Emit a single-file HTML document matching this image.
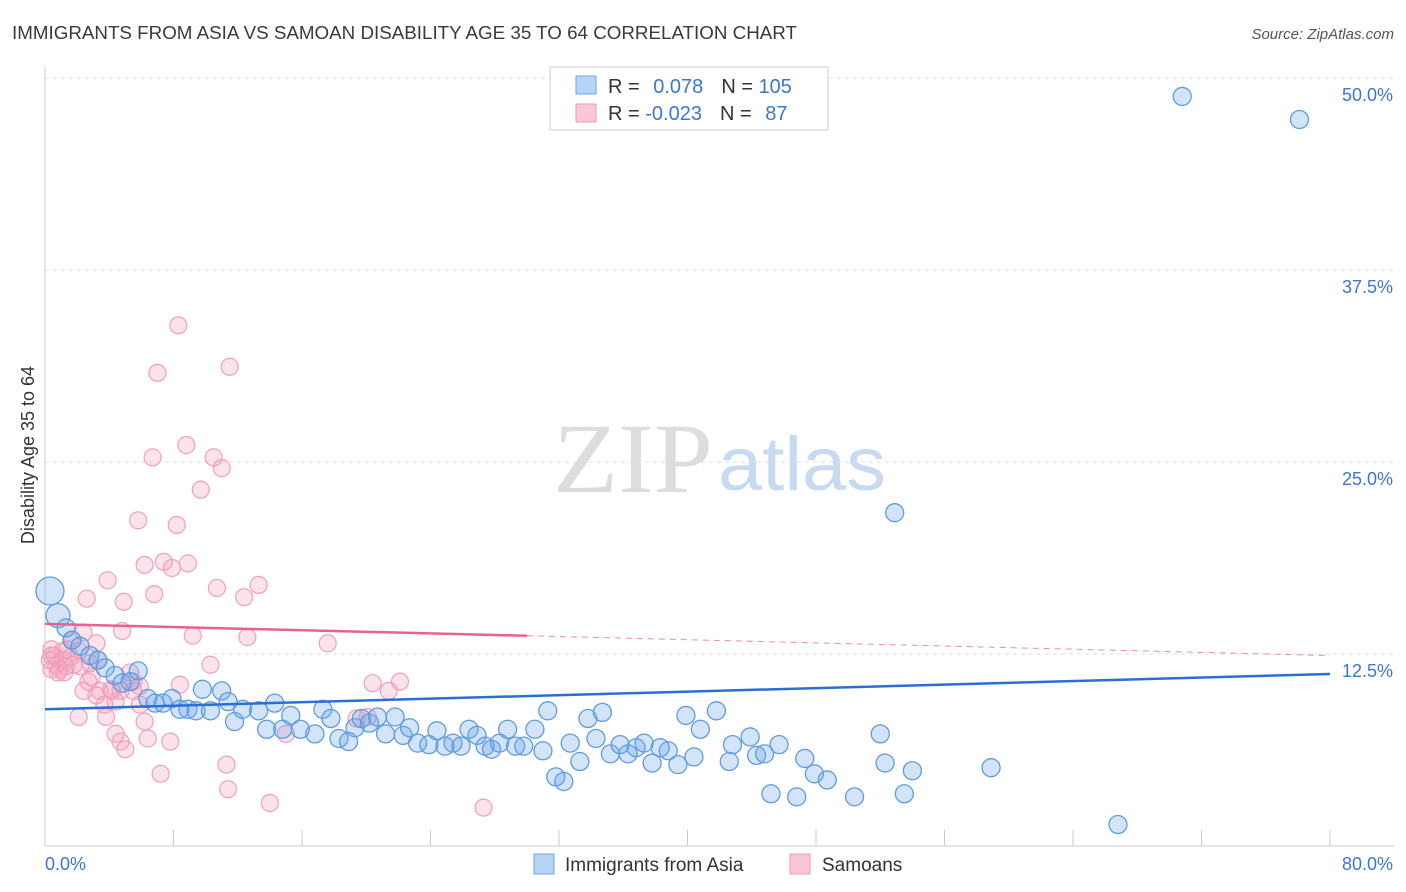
<!DOCTYPE html>
<html><head><meta charset="utf-8"><style>
body{margin:0;background:#fff;font-family:"Liberation Sans",sans-serif;}
#wrap{position:relative;width:1406px;height:892px;overflow:hidden}
</style></head><body>
<div id="wrap">
<svg id="svg" width="1406" height="892" xmlns="http://www.w3.org/2000/svg">
<text x="12" y="39" font-size="18" fill="#3a3a3a" textLength="785" lengthAdjust="spacingAndGlyphs">IMMIGRANTS FROM ASIA VS SAMOAN DISABILITY AGE 35 TO 64 CORRELATION CHART</text>
<text x="1394" y="39" font-size="15" fill="#555" font-style="italic" text-anchor="end">Source: ZipAtlas.com</text>
<text x="34" y="455" font-size="18" fill="#333" text-anchor="middle" transform="rotate(-90 34 455)">Disability Age 35 to 64</text>
<text x="553" y="492" font-size="100" fill="#ddd" font-family="Liberation Serif,serif" textLength="160" lengthAdjust="spacingAndGlyphs">ZIP</text>
<text x="718" y="490" font-size="76" fill="#c8daf2" textLength="168" lengthAdjust="spacingAndGlyphs">atlas</text>
<g id="grid"></g><g id="axes"></g><g id="pink"></g><g id="blue"></g><g id="lines"></g>
<g>
<rect x="550" y="67" width="278" height="63" fill="#fff" stroke="#ccc"/>
<rect x="576" y="76" width="20" height="18" fill="#b7d3f5" stroke="#6fa3e2"/>
<rect x="576" y="104" width="20" height="18" fill="#f9c7d6" stroke="#ef9ab6"/>
<text x="608" y="93" font-size="20" fill="#333">R = <tspan fill="#3b76d4" dx="8">0.078</tspan><tspan dx="18">N = </tspan><tspan fill="#3b76d4">105</tspan></text>
<text x="608" y="120" font-size="20" fill="#333">R = <tspan fill="#3b76d4">-0.023</tspan><tspan dx="18">N = </tspan><tspan fill="#3b76d4" dx="8">87</tspan></text>
</g>
<rect x="534" y="854" width="20" height="20" fill="#b7d3f5" stroke="#6fa3e2"/>
<text x="565" y="871" font-size="19" fill="#333">Immigrants from Asia</text>
<rect x="790" y="854" width="20" height="20" fill="#f9c7d6" stroke="#ef9ab6"/>
<text x="822" y="871" font-size="19" fill="#333">Samoans</text>
</svg></div>
<script>
const blueX=[0.31,0.81,1.31,1.68,2.18,2.8,3.3,3.74,4.36,4.8,5.3,5.8,6.4,6.85,7.35,7.9,8.4,8.9,9.4,9.8,10.3,11.0,11.4,11.8,12.3,13.3,13.8,14.3,14.8,15.3,15.9,16.8,17.3,17.8,18.3,18.9,19.3,19.7,20.2,20.7,21.2,21.8,22.3,22.7,23.2,23.9,24.4,24.9,25.4,25.9,26.4,26.9,27.4,27.8,28.3,28.8,29.3,29.8,30.5,31.0,31.3,31.8,32.3,32.7,33.3,33.8,34.3,34.7,35.2,35.8,36.3,36.8,37.3,37.8,38.3,38.8,39.4,39.9,40.4,40.8,41.8,42.6,42.8,43.9,44.3,44.8,45.2,45.7,46.8,47.3,47.9,48.7,50.4,52.0,52.3,52.9,53.5,54.0,58.9,66.8,70.8,78.1];
const blueY=[16.6,15.0,14.2,13.4,13.0,12.4,12.1,11.6,11.1,10.6,10.7,11.4,9.6,9.3,9.3,9.6,8.9,8.9,8.8,10.2,8.8,10.1,9.4,8.1,8.9,8.8,7.6,9.3,7.6,8.5,7.6,7.3,8.9,8.3,7.0,6.8,7.7,8.3,8.0,8.4,7.3,8.4,7.2,7.7,6.7,6.6,7.5,6.5,6.7,6.5,7.6,7.2,6.5,6.3,6.7,7.6,6.5,6.5,7.6,6.2,8.8,4.5,4.2,6.7,5.5,8.3,7.0,8.7,6.0,6.6,6.0,6.4,6.7,5.4,6.4,6.2,5.3,8.5,5.8,7.6,8.8,5.5,6.6,7.1,5.9,6.0,3.4,6.6,3.2,5.7,4.7,4.3,3.2,7.3,5.4,21.7,3.4,4.9,5.1,1.4,48.8,47.3];
const blueR=[14,12,9,9,9,9,9,9,9,9,9,9,9,9,9,9,9,9,9,9,9,9,9,9,9,9,9,9,9,9,9,9,9,9,9,9,9,9,9,9,9,9,9,9,9,9,9,9,9,9,9,9,9,9,9,9,9,9,9,9,9,9,9,9,9,9,9,9,9,9,9,9,9,9,9,9,9,9,9,9,9,9,9,9,9,9,9,9,9,9,9,9,9,9,9,9,9,9,9,9,9,9];
const pinkX=[0.3,0.4,0.6,0.8,1.1,1.4,1.7,2.1,2.4,2.6,2.8,3.2,2.2,1.1,1.3,0.4,2.1,2.4,2.7,3.2,3.4,3.7,3.8,3.9,4.2,4.4,4.7,4.8,4.9,5.0,5.3,5.5,5.8,5.9,6.2,6.2,6.4,6.7,6.8,7.0,7.2,7.4,7.8,7.9,8.2,8.3,8.4,8.8,8.9,9.2,9.7,10.3,10.5,10.7,11.0,11.3,11.4,11.5,12.4,12.6,13.3,14.0,15.0,17.6,19.4,20.1,20.4,21.4,22.1,27.3,0.4,0.7,0.9,1.6,1.8,2.9,3.3,1.2,4.1,5.5,5.9,4.7,4.4];
const pinkY=[12.1,11.5,12.4,11.3,12.1,12.8,13.4,12.7,13.9,16.1,11.9,13.2,11.7,12.7,11.7,12.8,8.4,10.1,10.7,9.8,10.1,9.2,8.4,17.3,10.1,7.3,6.8,14.0,15.9,6.3,11.3,10.1,21.2,10.4,8.1,18.3,7.0,25.3,16.4,30.8,4.7,18.5,6.8,18.1,20.9,33.9,10.5,26.1,18.4,13.7,23.2,11.8,25.3,16.8,24.6,5.3,3.7,31.2,16.2,13.6,17.0,2.8,7.3,13.2,8.3,8.4,10.6,10.1,10.7,2.5,12.4,11.8,11.5,12.3,11.8,11.0,12.1,11.3,10.2,10.7,9.2,10.1,9.4];
const xTicks=[0,8,16,24,32,40,48,56,64,72,80];
const yTicks=[12.5,25,37.5,50];
const yTickLabels=["12.5%","25.0%","37.5%","50.0%"];
const blueLine=[8.9,11.2];
const pinkLine=[14.46,12.4];
const pinkSolidEnd=30;
const NS="http://www.w3.org/2000/svg";
const X=v=>45+v*(1285/80), Y=v=>846-v*(192/12.5);
function mk(t,a,p){const e=document.createElementNS(NS,t);for(const k in a)e.setAttribute(k,a[k]);p.appendChild(e);return e;}
const grid=document.getElementById('grid'),axes=document.getElementById('axes');
yTicks.forEach((v,i)=>{
 const l=mk('line',{x1:45,x2:1394,y1:Y(v),y2:Y(v),stroke:'#ddd','stroke-dasharray':'4,4'},grid);
 
 
 const t=mk('text',{x:1393,y:Y(v)+23,'font-size':18,fill:'#3b76d4','text-anchor':'end'},grid);t.textContent=yTickLabels[i];
 
 
});
const ax=mk('line',{x1:45,x2:1394,y1:846,y2:846,stroke:'#ccc'},axes);


const ay=mk('line',{x1:45,x2:45,y1:67,y2:846,stroke:'#ccc'},axes);


xTicks.forEach(v=>{const t=mk('line',{x1:X(v),x2:X(v),y1:830,y2:846,stroke:'#ccc'},axes);
 
 });
const l0=mk('text',{x:45,y:870,'font-size':18,fill:'#3b76d4'},axes);l0.textContent='0.0%';


const l1=mk('text',{x:1393,y:870,'font-size':18,fill:'#3b76d4','text-anchor':'end'},axes);l1.textContent='80.0%';


const pg=document.getElementById('pink'),bg=document.getElementById('blue'),lg=document.getElementById('lines');
pinkX.forEach((x,i)=>{const c=mk('circle',{cx:X(x),cy:Y(pinkY[i]),r:8.5,fill:'rgba(244,160,188,0.3)',stroke:'#f0a0bb','stroke-width':1.2},pg);
 
 });
blueX.forEach((x,i)=>{const c=mk('circle',{cx:X(x),cy:Y(blueY[i]),r:blueR[i],fill:'rgba(110,165,232,0.3)',stroke:'#5e9ce2','stroke-width':1.3},bg);
 
 });
const pAt=v=>pinkLine[0]+(pinkLine[1]-pinkLine[0])*v/80;
const pd=mk('line',{x1:X(pinkSolidEnd),y1:Y(pAt(pinkSolidEnd)),x2:X(80),y2:Y(pinkLine[1]),stroke:'#ef8aac','stroke-dasharray':'6,5','stroke-width':1},lg);


const ps=mk('line',{x1:X(0),y1:Y(pinkLine[0]),x2:X(pinkSolidEnd),y2:Y(pAt(pinkSolidEnd)),stroke:'#e8628f','stroke-width':2.5},lg);


const bl=mk('line',{x1:X(0),y1:Y(blueLine[0]),x2:X(80),y2:Y(blueLine[1]),stroke:'#2a6fd6','stroke-width':2.5},lg);


</script>
</body></html>
